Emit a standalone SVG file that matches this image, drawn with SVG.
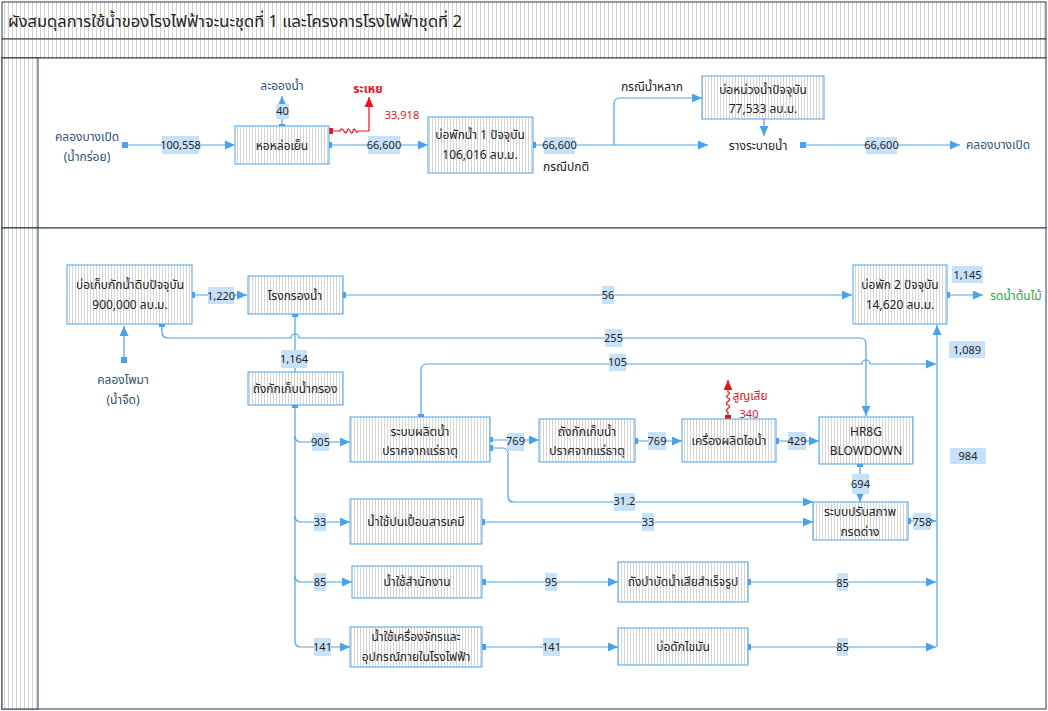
<svg xmlns="http://www.w3.org/2000/svg" width="1048" height="711" viewBox="0 0 1048 711">
<defs>
<pattern id="hf" width="4" height="4" patternUnits="userSpaceOnUse"><rect width="4" height="4" fill="#fff"/><rect x="0" y="0" width="1" height="4" fill="#d2d2d2"/></pattern>
<pattern id="hn" width="3" height="3" patternUnits="userSpaceOnUse"><rect width="3" height="3" fill="#fff"/><rect x="0" y="0" width="0.7" height="3" fill="#c4c4c4"/></pattern>
<marker id="a" viewBox="0 0 10 9" refX="10" refY="4.5" markerWidth="10" markerHeight="9" markerUnits="userSpaceOnUse" orient="auto"><path d="M0,0 L10,4.5 L0,9 z" fill="#4aa3ea"/></marker>
<marker id="ar" viewBox="0 0 10 9" refX="10" refY="4.5" markerWidth="10" markerHeight="9" markerUnits="userSpaceOnUse" orient="auto"><path d="M0,0 L10,4.5 L0,9 z" fill="#e8141b"/></marker>
<style>
text{font-family:Tahoma,"Noto Sans Thai","Noto Sans","DejaVu Sans",sans-serif;font-size:12px;fill:#222;text-anchor:middle;dominant-baseline:central}
#labels text{font-size:11px}
.n{fill:url(#hn);stroke:#4aa3ea;stroke-width:1}
.c{fill:none;stroke:#4aa3ea;stroke-width:1.2}
.cr{fill:none;stroke:#e8141b;stroke-width:1.2}
.d{fill:#4aa3ea}
.lb{fill:#c6e2fa}
.bl{fill:#2d5275}
.red{fill:#e8141b}
.grn{fill:#2aa84a}
.fr{fill:url(#hf);stroke:#2a3a48;stroke-width:1}
</style>
</defs>
<rect x="0" y="0" width="1048" height="711" fill="#fff"/>
<g id="frame">
<rect class="fr" x="2" y="2" width="1044" height="37"/>
<rect class="fr" x="2" y="39" width="1044" height="19"/>
<rect x="2" y="58" width="1044" height="170" fill="#fff" stroke="#2a3a48"/>
<rect class="fr" x="2" y="58" width="36" height="170"/>
<rect x="2" y="228" width="1044" height="481" fill="#fff" stroke="#2a3a48"/>
<rect class="fr" x="2" y="228" width="36" height="481"/>
<text x="8" y="21" style="font-size:16.5px;text-anchor:start">ผังสมดุลการใช้น้ำของโรงไฟฟ้าจะนะชุดที่ 1 และโครงการโรงไฟฟ้าชุดที่ 2</text>
</g>
<g id="connectors">
<path class="c" marker-end="url(#a)" d="M125,145 H235"/>
<path class="c" marker-end="url(#a)" d="M282,127 V96"/>
<path class="c" marker-end="url(#a)" d="M330,145 H428"/>
<path class="c" marker-end="url(#a)" d="M533,145 H708"/>
<path class="c" marker-end="url(#a)" d="M614,145 V104 Q614,98 620,98 H702"/>
<path class="c" marker-end="url(#a)" d="M764,119 V136"/>
<path class="c" marker-end="url(#a)" d="M803,145 H960"/>
<path class="cr" marker-end="url(#ar)" d="M330,131 H340 c3,-7 5,7 7,0 c2,-7 4,7 6,0 c2,-6 3,5 5,0 H369 V97"/>
<path class="c" marker-end="url(#a)" d="M192,295 H247"/>
<path class="c" marker-end="url(#a)" d="M343,295 H852"/>
<path class="c" marker-end="url(#a)" d="M947,295 H983"/>
<path class="c" marker-end="url(#a)" d="M124,360 V326"/>
<path class="c" marker-end="url(#a)" d="M162,324 V332 Q162,338 168,338 H291 a4,4 0 0 1 8,0 H860 Q866,338 866,344 V416"/>
<path class="c" marker-end="url(#a)" d="M421,417 V370 Q421,364 427,364 H862 a4,4 0 0 1 8,0 H936"/>
<path class="c" d="M295,314 V372"/>
<path class="c" marker-end="url(#a)" d="M295,405 V641 Q295,647 301,647 H350"/>
<path class="c" marker-end="url(#a)" d="M295,436 Q295,442 301,442 H350"/>
<path class="c" marker-end="url(#a)" d="M295,516 Q295,522 301,522 H350"/>
<path class="c" marker-end="url(#a)" d="M295,576 Q295,582 301,582 H352"/>
<path class="c" marker-end="url(#a)" d="M490,440 H539"/>
<path class="c" marker-end="url(#a)" d="M490,448 H502 Q508,448 508,454 V496 Q508,502 514,502 H813"/>
<path class="c" marker-end="url(#a)" d="M482,522 H813"/>
<path class="c" marker-end="url(#a)" d="M635,441 H682"/>
<path class="c" marker-end="url(#a)" d="M776,441 H819"/>
<path class="c" marker-end="url(#a)" d="M860,464 V502"/>
<path class="c" marker-end="url(#a)" d="M908,521 H936"/>
<path class="c" marker-end="url(#a)" d="M483,582 H618"/>
<path class="c" marker-end="url(#a)" d="M748,582 H936"/>
<path class="c" marker-end="url(#a)" d="M483,647 H618"/>
<path class="c" marker-end="url(#a)" d="M748,647 H936"/>
<path class="c" marker-end="url(#a)" d="M937,647 V325"/>
<path class="cr" marker-end="url(#ar)" d="M728,418 V412 c-6,-2 6,-5 0,-7 c-6,-2 6,-5 0,-7 c-5,-2 5,-4 0,-6 V380"/>
<rect class="d" x="122" y="142" width="6" height="6"/>
<rect class="d" x="279" y="124" width="6" height="6"/>
<rect class="d" x="327" y="142" width="5" height="6"/>
<rect x="327" y="128" width="6" height="6" fill="#e8141b"/>
<rect class="d" x="531" y="142" width="5" height="6"/>
<rect class="d" x="800" y="142" width="6" height="6"/>
<rect class="d" x="190" y="292" width="5" height="6"/>
<rect class="d" x="341" y="292" width="5" height="6"/>
<rect class="d" x="945" y="292" width="5" height="6"/>
<rect class="d" x="121" y="357" width="6" height="6"/>
<rect class="d" x="159" y="321" width="6" height="6"/>
<rect class="d" x="292" y="311" width="6" height="6"/>
<rect class="d" x="292" y="402" width="6" height="6"/>
<rect class="d" x="418" y="414" width="6" height="5"/>
<rect class="d" x="488" y="437" width="5" height="5"/>
<rect class="d" x="488" y="445" width="5" height="6"/>
<rect class="d" x="479" y="519" width="6" height="6"/>
<rect class="d" x="632" y="438" width="6" height="6"/>
<rect x="725" y="415" width="6" height="6" fill="#e8141b"/>
<rect class="d" x="773" y="438" width="6" height="6"/>
<rect class="d" x="857" y="461" width="6" height="6"/>
<rect class="d" x="905" y="518" width="6" height="6"/>
<rect class="d" x="480" y="579" width="6" height="6"/>
<rect class="d" x="745" y="579" width="6" height="6"/>
<rect class="d" x="480" y="644" width="6" height="6"/>
<rect class="d" x="745" y="644" width="6" height="6"/>
</g>
<g id="labels">
<rect class="lb" x="162" y="136" width="37" height="18"/><text x="180.5" y="145">100,558</text>
<rect class="lb" x="276" y="104" width="13" height="15"/><text x="282.5" y="111.5">40</text>
<rect class="lb" x="368" y="136" width="32" height="18"/><text x="384" y="145">66,600</text>
<rect class="lb" x="544" y="137" width="31" height="17"/><text x="559.5" y="145">66,600</text>
<rect class="lb" x="866" y="137" width="31" height="17"/><text x="881.5" y="145">66,600</text>
<rect class="lb" x="208" y="287" width="26" height="17"/><text x="221" y="296">1,220</text>
<rect class="lb" x="602" y="286" width="12" height="18"/><text x="608" y="295">56</text>
<rect class="lb" x="605" y="329" width="17" height="18"/><text x="613.5" y="338">255</text>
<rect class="lb" x="609" y="354" width="17" height="17"/><text x="617.5" y="362">105</text>
<rect class="lb" x="281" y="350" width="26" height="18"/><text x="294" y="359">1,164</text>
<rect class="lb" x="952" y="266" width="31" height="17"/><text x="967.5" y="275">1,145</text>
<rect class="lb" x="949" y="341" width="36" height="17"/><text x="967" y="350">1,089</text>
<rect class="lb" x="950" y="448" width="36" height="16"/><text x="968" y="456">984</text>
<rect class="lb" x="312" y="433" width="17" height="18"/><text x="320.5" y="442">905</text>
<rect class="lb" x="507" y="433" width="17" height="18"/><text x="515.5" y="441">769</text>
<rect class="lb" x="648" y="432" width="18" height="18"/><text x="657" y="441">769</text>
<rect class="lb" x="788" y="432" width="18" height="18"/><text x="797" y="441">429</text>
<rect class="lb" x="852" y="474" width="17" height="20"/><text x="860.5" y="484">694</text>
<rect class="lb" x="913" y="513" width="18" height="17"/><text x="922" y="522">758</text>
<rect class="lb" x="614" y="493" width="21" height="18"/><text x="624.5" y="501">31.2</text>
<rect class="lb" x="314" y="513" width="12" height="18"/><text x="320" y="522">33</text>
<rect class="lb" x="642" y="513" width="12" height="18"/><text x="648" y="522">33</text>
<rect class="lb" x="314" y="573" width="12" height="18"/><text x="320" y="582">85</text>
<rect class="lb" x="545" y="573" width="12" height="18"/><text x="551" y="582">95</text>
<rect class="lb" x="837" y="573" width="11" height="18"/><text x="842.5" y="583">85</text>
<rect class="lb" x="314" y="638" width="17" height="18"/><text x="322.5" y="647">141</text>
<rect class="lb" x="543" y="638" width="17" height="18"/><text x="551.5" y="647">141</text>
<rect class="lb" x="837" y="638" width="11" height="18"/><text x="842.5" y="647">85</text>
</g>
<g id="n-klong1"><text class="bl" x="87" y="137">คลองบางเปิด</text><text class="bl" x="87" y="157">(น้ำกร่อย)</text></g>
<g id="n-aerosol"><text class="bl" x="282" y="86">ละอองน้ำ</text></g>
<g id="n-evap"><text class="red" x="368" y="89" style="font-weight:bold">ระเหย</text><text class="red" x="402" y="115" style="font-size:11px">33,918</text></g>
<g id="n-tower"><rect class="n" x="235" y="126" width="94" height="38"/><text x="282" y="146">หอหล่อเย็น</text></g>
<g id="n-pond1"><rect class="n" x="428" y="117" width="105" height="56"/><text x="480" y="135">บ่อพักน้ำ 1 ปัจจุบัน</text><text x="480" y="155">106,016 ลบ.ม.</text></g>
<g id="n-normal"><text x="566" y="167">กรณีปกติ</text></g>
<g id="n-flood"><text x="652" y="87">กรณีน้ำหลาก</text></g>
<g id="n-retention"><rect class="n" x="702" y="76" width="122" height="43"/><text x="763" y="90">บ่อหน่วงน้ำปัจจุบัน</text><text x="763" y="109">77,533 ลบ.ม.</text></g>
<g id="n-channel"><text x="758" y="146">รางระบายน้ำ</text></g>
<g id="n-klong2"><text class="bl" x="998" y="145">คลองบางเปิด</text></g>
<g id="n-rawpond"><rect class="n" x="67" y="265" width="125" height="59"/><text x="130" y="285">บ่อเก็บกักน้ำดิบปัจจุบัน</text><text x="130" y="305">900,000 ลบ.ม.</text></g>
<g id="n-klongpoma"><text class="bl" x="123" y="380">คลองโพมา</text><text class="bl" x="123" y="400">(น้ำจืด)</text></g>
<g id="n-filter"><rect class="n" x="248" y="276" width="95" height="38"/><text x="295" y="296">โรงกรองน้ำ</text></g>
<g id="n-pond2"><rect class="n" x="853" y="265" width="94" height="59"/><text x="900" y="285">บ่อพัก 2 ปัจจุบัน</text><text x="900" y="305">14,620 ลบ.ม.</text></g>
<g id="n-irrigate"><text class="grn" x="1016" y="296">รดน้ำต้นไม้</text></g>
<g id="n-filtertank"><rect class="n" x="248" y="372" width="95" height="33"/><text x="295" y="389">ถังกักเก็บน้ำกรอง</text></g>
<g id="n-demin"><rect class="n" x="350" y="417" width="140" height="45"/><text x="420" y="432">ระบบผลิตน้ำ</text><text x="420" y="451">ปราศจากแร่ธาตุ</text></g>
<g id="n-demintank"><rect class="n" x="539" y="419" width="96" height="43"/><text x="587" y="432">ถังกักเก็บน้ำ</text><text x="587" y="451">ปราศจากแร่ธาตุ</text></g>
<g id="n-boiler"><rect class="n" x="682" y="419" width="94" height="43"/><text x="729" y="441">เครื่องผลิตไอน้ำ</text></g>
<g id="n-loss"><text class="red" x="750" y="396">สูญเสีย</text><text class="red" x="749" y="414" style="font-size:11px">340</text></g>
<g id="n-hrsg"><rect class="n" x="819" y="417" width="94" height="47"/><text x="866" y="432">HR8G</text><text x="866" y="451">BLOWDOWN</text></g>
<g id="n-chem"><rect class="n" x="350" y="499" width="132" height="45"/><text x="416" y="522">น้ำใช้ปนเปื้อนสารเคมี</text></g>
<g id="n-neutral"><rect class="n" x="813" y="502" width="95" height="38"/><text x="860" y="512">ระบบปรับสภาพ</text><text x="860" y="532">กรดด่าง</text></g>
<g id="n-office"><rect class="n" x="352" y="566" width="130" height="32"/><text x="417" y="582">น้ำใช้สำนักงาน</text></g>
<g id="n-septic"><rect class="n" x="618" y="562" width="130" height="40"/><text x="683" y="582">ถังบำบัดน้ำเสียสำเร็จรูป</text></g>
<g id="n-machine"><rect class="n" x="350" y="627" width="132" height="40"/><text x="416" y="637">น้ำใช้เครื่องจักรและ</text><text x="416" y="657">อุปกรณ์ภายในโรงไฟฟ้า</text></g>
<g id="n-grease"><rect class="n" x="618" y="628" width="130" height="37"/><text x="683" y="647">บ่อดักไขมัน</text></g>
</svg>
